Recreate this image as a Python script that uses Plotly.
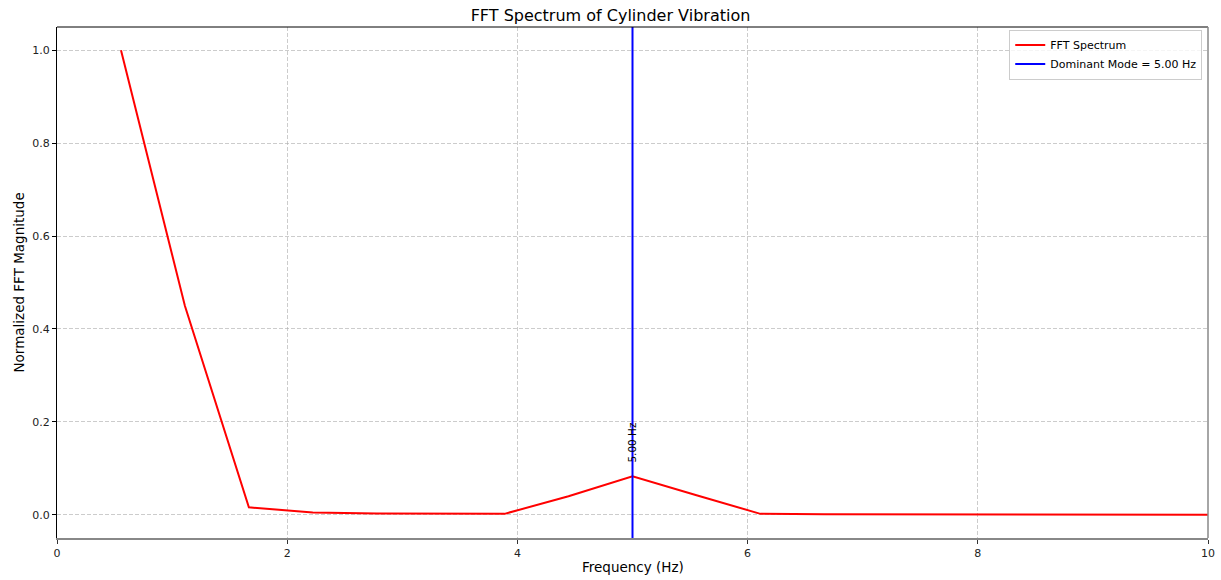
import plotly.graph_objects as go

freq = [0.556, 1.111, 1.667, 2.222, 2.778, 3.333, 3.889, 4.444, 5.0, 5.556,
        6.111, 6.667, 7.222, 7.778, 8.333, 8.889, 9.444, 10.0]
mag = [1.0, 0.45, 0.016, 0.005, 0.0025, 0.0015, 0.002, 0.04, 0.083, 0.042,
       0.002, 0.001, 0.0007, 0.0005, 0.0004, 0.0003, 0.0002, 0.0001]
dominant = 5.0
x_ticks = [0, 2, 4, 6, 8, 10]
y_ticks = [0.0, 0.2, 0.4, 0.6, 0.8, 1.0]

font = "DejaVu Sans"
W, H = 1221, 580
ML, MR, MT, MB = 57, 13, 27, 42
pw, ph = W - ML - MR, H - MT - MB

fig = go.Figure()
fig.add_trace(go.Scatter(x=freq, y=mag, mode="lines", name="FFT Spectrum",
                         line=dict(color="red", width=2)))
fig.add_trace(go.Scatter(x=[dominant, dominant], y=[-0.05, 1.05], mode="lines",
                         name=f"Dominant Mode = {dominant:.2f} Hz",
                         line=dict(color="blue", width=2)))
fig.add_annotation(x=dominant, y=0.108, text=f"{dominant:.2f} Hz", textangle=-90,
                   showarrow=False, yanchor="bottom", xanchor="center",
                   font=dict(family=font, size=10.5, color="black"))

# axis titles
fig.add_annotation(xref="paper", yref="paper", x=0.5, y=-(567 - 538) / ph,
                   text="Frequency (Hz)", showarrow=False, xanchor="center", yanchor="middle",
                   font=dict(family=font, size=13.5, color="black"))
fig.add_annotation(xref="paper", yref="paper", x=-(ML - 18) / pw, y=0.5,
                   text="Normalized FFT Magnitude", showarrow=False, textangle=-90,
                   xanchor="center", yanchor="middle",
                   font=dict(family=font, size=13.5, color="black"))

# top and right spines
fig.add_shape(type="line", xref="paper", yref="paper", x0=0, x1=1, y0=1, y1=1,
              line=dict(color="black", width=1))
fig.add_shape(type="line", xref="paper", yref="paper", x0=1, x1=1, y0=0, y1=1,
              line=dict(color="#888888", width=1.5))

axis_common = dict(showline=True, ticks="outside", ticklen=4, automargin=False,
                   showgrid=True, gridcolor="rgba(176,176,176,0.65)", griddash="4px,2px",
                   gridwidth=0.8, zeroline=False,
                   tickfont=dict(family=font, size=11, color="#222222"))
fig.update_layout(
    width=W, height=H,
    margin=dict(l=ML, r=MR, t=MT, b=MB),
    plot_bgcolor="white", paper_bgcolor="white",
    title=dict(text="FFT Spectrum of Cylinder Vibration", x=0.5, xanchor="center",
               y=1 - 15 / H, yanchor="middle",
               font=dict(family=font, size=16, color="black")),
    xaxis=dict(range=[0, 10], tickvals=x_ticks, ticktext=[str(v) for v in x_ticks],
               linecolor="#888888", linewidth=2, tickcolor="#333333",
               **axis_common),
    yaxis=dict(range=[-0.05, 1.05], tickvals=y_ticks, ticktext=[f"{v:.1f}" for v in y_ticks],
               linecolor="black", linewidth=1, tickcolor="black",
               **axis_common),
    legend=dict(x=0.995, y=0.995, xanchor="right", yanchor="top",
                bgcolor="rgba(255,255,255,0.8)", bordercolor="#cccccc", borderwidth=1,
                font=dict(family=font, size=11, color="black"), tracegroupgap=0),
    showlegend=True,
)
fig.write_html("out.html")
